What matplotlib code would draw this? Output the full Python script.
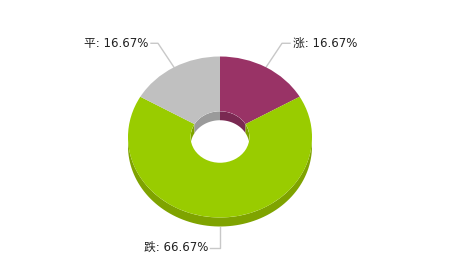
import numpy as np
import matplotlib
matplotlib.use('Agg')
from matplotlib import pyplot as plt
from matplotlib.patches import Wedge, Polygon, Ellipse
from matplotlib.transforms import Affine2D

# 数据
labels = ['涨', '跌', '平']
values = [1, 4, 1]
colors = ['#993366', '#99CC00', '#C0C0C0']
dark_colors = ['#7a2952', '#7fa300', '#9a9a9a']

# 饼图几何(像素)
cx, cy = 220, 137
rx, ry = 92, 80.5
hole = 0.32
depth = 9

fig = plt.figure(figsize=(4.76, 2.58), dpi=100)
ax = fig.add_axes([0, 0, 1, 1])
ax.set_xlim(0, 476)
ax.set_ylim(258, 0)
ax.axis('off')

tr = Affine2D().scale(rx, -ry).translate(cx, cy) + ax.transData

total = float(sum(values))
fracs = [v / total for v in values]
starts = 90 - 360 * np.concatenate([[0], np.cumsum(fracs)[:-1]])
ends = starts - 360 * np.array(fracs)


def arc(t0, t1, r, dy=0, n=80):
    t = np.radians(np.linspace(t0, t1, n))
    return np.column_stack([cx + r * rx * np.cos(t), cy - r * ry * np.sin(t) + dy])


# 外侧前壁
for s, e, dc in zip(starts, ends, dark_colors):
    for off in (0, 360):
        a, b = max(e + off, 180), min(s + off, 360)
        if a < b:
            top = arc(a, b, 1)
            bot = arc(b, a, 1, depth)
            ax.add_patch(Polygon(np.vstack([top, bot]), closed=True, fc=dc, ec='none', zorder=1))

# 顶面
for s, e, c in zip(starts, ends, colors):
    ax.add_patch(Wedge((0, 0), 1, e, s, width=1 - hole, fc=c, ec='none', transform=tr, zorder=2))

# 内壁(后半部)
clip = Ellipse((cx, cy), 2 * rx * hole, 2 * ry * hole, transform=ax.transData)
for s, e, dc in zip(starts, ends, dark_colors):
    for off in (0, 360, -360):
        a, b = max(e + off, 0), min(s + off, 180)
        if a < b:
            top = arc(a, b, hole)
            bot = arc(b, a, hole, depth)
            p = Polygon(np.vstack([top, bot]), closed=True, fc=dc, ec='none', zorder=3)
            ax.add_patch(p)
            p.set_clip_path(clip)

# 标签与引线
font = dict(family=['DejaVu Sans', 'Noto Sans CJK SC'], size=8.5, color='#222222')
for lab, f, s, e in zip(labels, fracs, starts, ends):
    mid = np.radians((s + e) / 2)
    x0 = cx + rx * np.cos(mid)
    y0 = cy - ry * np.sin(mid)
    txt = f'{lab}: {f * 100:.2f}%'
    if np.sin(mid) < -0.9:
        y0 += depth
        xs = [x0, x0, x0 - 10]
        ys = [y0, y0 + 21, y0 + 21]
        ax.text(x0 - 12, y0 + 21, txt, ha='right', va='center', **font)
    elif np.cos(mid) > 0:
        xs = [x0, x0 + 16, x0 + 24]
        ys = [y0, y0 - 24, y0 - 24]
        ax.text(x0 + 27, y0 - 24, txt, ha='left', va='center', **font)
    else:
        xs = [x0, x0 - 16, x0 - 23]
        ys = [y0, y0 - 24, y0 - 24]
        ax.text(x0 - 26, y0 - 24, txt, ha='right', va='center', **font)
    ax.plot(xs, ys, color='#c8c8c8', lw=1, zorder=0)

plt.savefig('out.png', dpi=100)
